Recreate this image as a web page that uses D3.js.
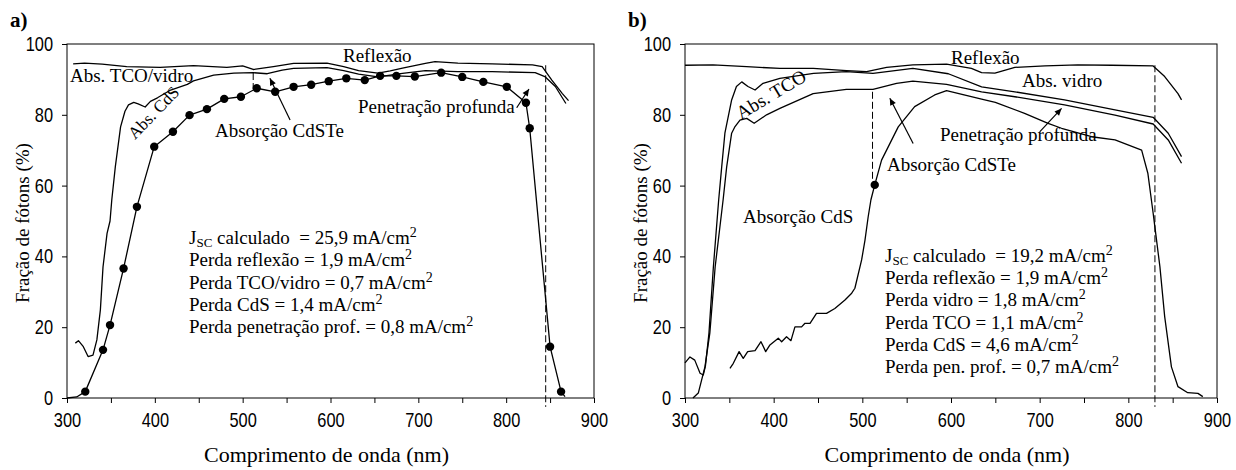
<!DOCTYPE html>
<html><head><meta charset="utf-8">
<script src="https://cdn.jsdelivr.net/npm/d3@7"></script>
<style>
body{margin:0;background:#fff;}
</style></head><body>
<svg id="chart" width="1236" height="470" xmlns="http://www.w3.org/2000/svg"></svg>
<script>
// ---------- axis ticks ----------
const xTicks = [300, 400, 500, 600, 700, 800, 900];
const xMinorTicks = [350, 450, 550, 650, 750, 850];
const yTicks = [0, 20, 40, 60, 80, 100];
const xTitle = "Comprimento de onda (nm)";
const yTitle = "Fração de fótons (%)";

// ---------- panel a ----------
const aReflexao = [[307,94.4],[320,94.6],[340,94.3],[368,93.6],[406,93.4],[444,93.9],[482,93.4],[500,93.8],[512,92.8],[535,93.6],[558,94.5],[596,94.6],[615,93.6],[632,92.5],[654,91.8],[668,92.4],[682,93.2],[708,94.5],[719,95],[745,94.6],[784,94.4],[830,94.1],[841,93.6],[852,89.8],[864,86],[871,84]];
const aTcoVidro = [[309.5,15.5],[313,16.2],[318.6,14.5],[324,11.7],[329.6,12.1],[334,16.4],[338,24.9],[341,37],[345.6,46.5],[349,50],[351,56],[355,65.3],[361,76.6],[366,81],[370,82.8],[376,83.5],[381,83.1],[389,82.2],[395,83.8],[403,84.8],[418,87],[437,88.6],[444,89.6],[467,91.2],[490,91.8],[512,91.9],[528,91.6],[545,92.6],[558,93.1],[596,93.3],[615,92.5],[632,91.5],[654,90.7],[682,91.7],[708,92.5],[745,92.2],[784,92.2],[833,91.9],[844,90.8],[856,88],[868,83.2]];
const aMedidaDots = [[320.8,1.8],[341,13.6],[349,20.6],[364.4,36.6],[379.6,54],[399.3,71],[420.6,75.2],[439.5,79.9],[459.3,81.6],[479,84.5],[498,85.1],[516,87.5],[537,86.5],[558,87.9],[578,88.5],[598,89.5],[618,90.3],[639,89.8],[656.5,91],[675,91],[696,90.8],[726,91.9],[750,90.7],[774,89.3],[800.7,87.9],[822.5,83.4],[826.8,76.2],[850,14.5],[862.5,1.8]];
const aMedidaStart = [[300,0],[311,0.3]];
const aMedidaEnd = [[867,0.4]];
const aTextBlock = ["calculado\u00a0\u00a0= 25,9 mA/cm", "Perda reflexão = 1,9 mA/cm", "Perda TCO/vidro = 0,7 mA/cm", "Perda CdS = 1,4 mA/cm", "Perda penetração prof. = 0,8 mA/cm"];

// ---------- panel b ----------
const bReflexao = [[300,94],[331.6,94.1],[369.5,93.6],[407,93.1],[444.7,93.1],[482.3,92.5],[504.8,92.2],[527.4,93.4],[557,94.1],[595,94.3],[623,93.1],[634.5,91.9],[649.5,91.8],[672,93.4],[706,93.8],[743,94.1],[781,94],[828,93.8],[841,90.8],[856,86],[860,84.2]];
const bVidro = [[300,9.9],[305.6,11.6],[311,10.7],[317,7],[320.6,6.5],[323,9],[327,18.3],[332,37],[338,56],[341.4,65.3],[345,74.8],[352.6,84.2],[358,88],[364,89.3],[371,88],[379,87],[388,88.9],[407,90.3],[445,91.7],[482,92.2],[512,91.7],[557,93.1],[597,91.6],[634.5,87.9],[672,86.5],[728,84.2],[785,81.4],[828,79.3],[845,74.8],[860,68.2]];
const bTco = [[309,0],[315,1.4],[322.5,8.8],[328,18.3],[334,37],[343,56],[347,65.3],[352.6,74.8],[356,76.5],[362,78.5],[369.6,79],[378,77.6],[392,80],[407,81.8],[444.5,86],[482,87.2],[512,87.2],[538.6,88.9],[557,89.5],[595,88.6],[634.5,86.5],[672,85.1],[728,82.8],[785,79.9],[828,77.4],[845,72.9],[860,66.3]];
const bMedida = [[350.7,8.4],[354.5,9.8],[361,13.1],[365.7,11.2],[370.7,13.1],[379,13.4],[385.7,15.9],[391,13.1],[395.8,15],[405.2,16.9],[409,15.9],[414.5,17.3],[419.5,16.2],[424,20.1],[431.5,20.1],[435.3,21.1],[441,21.1],[448.3,23.9],[459.6,23.9],[469,25.3],[480.4,27.7],[488,29.6],[491.6,31],[499.2,39],[503,44.6],[506.6,51.2],[509.7,56],[514,60.2],[521.7,67.2],[540.5,76.6],[559,82.3],[581.6,85.6],[595,86.8],[634.5,84.4],[650,83.5],[683,80.4],[709.5,77.6],[724.7,76.2],[758.5,73.8],[785,72.9],[815,70],[822,63.5],[828,52.2],[829.9,48.4],[835.6,37.1],[841,23],[848.6,8.8],[856,3.2],[867,1.5],[878.5,1.3],[884,0.4]];
const bMedidaDots = [[514,60.2]];
const bTextBlock = ["calculado\u00a0\u00a0= 19,2 mA/cm", "Perda reflexão = 1,9 mA/cm", "Perda vidro = 1,8 mA/cm", "Perda TCO = 1,1 mA/cm", "Perda CdS = 4,6 mA/cm", "Perda pen. prof. = 0,7 mA/cm"];

const SERIF = "'Liberation Serif', 'DejaVu Serif', 'Times New Roman', Times, serif";
const SANS = "'Liberation Sans', Arial, sans-serif";

const svg = d3.select("#chart");
const defs = svg.append("defs");
defs.append("marker").attr("id","arr").attr("viewBox","0 0 10 10")
  .attr("refX",10).attr("refY",5).attr("markerWidth",14).attr("markerHeight",7)
  .attr("markerUnits","userSpaceOnUse").attr("orient","auto")
  .append("path").attr("d","M0,0.5 L10,5 L0,9.5 Z").attr("fill","#000");

const TOP = 44, BOTTOM = 398;

function stext(sel, size) {
  return sel.attr("font-family", SERIF).style("font-family", SERIF)
    .style("font-size", size + "px").attr("fill", "#000");
}

function drawPanel(cfg) {
  const x = d3.scaleLinear().domain([300, 900]).range([cfg.left, cfg.right]);
  const y = d3.scaleLinear().domain([0, 100]).range([BOTTOM, TOP]);
  const g = svg.append("g");

  // axes
  const xa = g.append("g").attr("transform", `translate(0,${BOTTOM})`)
    .call(d3.axisBottom(x).tickValues(xTicks).tickSize(5).tickSizeOuter(0).tickFormat(d3.format("d")));
  g.append("g").attr("transform", `translate(0,${BOTTOM})`)
    .call(d3.axisBottom(x).tickValues(xMinorTicks).tickSize(5).tickSizeOuter(0).tickFormat(""))
    .select(".domain").remove();
  const ya = g.append("g").attr("transform", `translate(${cfg.left},0)`)
    .call(d3.axisLeft(y).tickValues(yTicks).tickSize(5).tickSizeOuter(0));
  g.selectAll(".domain").remove();
  g.selectAll(".tick line").attr("stroke", "#000");
  xa.selectAll(".tick text").attr("y", 15).attr("transform", "scale(0.82,1)")
    .attr("fill", "#000").style("font-family", SANS).style("font-size", "20px");
  ya.selectAll(".tick text").attr("x", -14 / 0.82).attr("transform", "scale(0.82,1)")
    .attr("fill", "#000").style("font-family", SANS).style("font-size", "20px");

  // frame
  g.append("rect").attr("x", cfg.left).attr("y", TOP)
    .attr("width", cfg.right - cfg.left).attr("height", BOTTOM - TOP)
    .attr("fill", "none").attr("stroke", "#000").attr("stroke-width", 1);

  // titles
  stext(g.append("text"), 22).attr("x", (cfg.left + cfg.right) / 2 - 4).attr("y", 462)
    .attr("text-anchor", "middle").text(xTitle);
  stext(g.append("text"), 19).attr("transform", `translate(${cfg.left - 38},${(TOP + BOTTOM) / 2 + 2}) rotate(-90)`)
    .attr("text-anchor", "middle").text(yTitle);
  stext(g.append("text"), 21).attr("x", cfg.left - 57).attr("y", 27)
    .style("font-weight", "bold").text(cfg.tag);

  const line = d3.line().x(d => x(d[0])).y(d => y(d[1]));
  cfg.series.forEach(s => {
    g.append("path").datum(s).attr("d", line)
      .attr("fill", "none").attr("stroke", "#000").attr("stroke-width", 1.3)
      .attr("stroke-linejoin", "round");
  });
  g.selectAll("circle.dot").data(cfg.dots).join("circle").attr("class", "dot")
    .attr("cx", d => x(d[0])).attr("cy", d => y(d[1])).attr("r", 4.2).attr("fill", "#000");

  // dashed guide lines
  cfg.dashes.forEach(d => {
    g.append("line").attr("x1", x(d[0])).attr("x2", x(d[0]))
      .attr("y1", y(d[1])).attr("y2", y(d[2]))
      .attr("stroke", "#000").attr("stroke-width", 1).attr("stroke-dasharray", "7,3");
  });
  // arrows
  cfg.arrows.forEach(a => {
    g.append("line").attr("x1", x(a[0])).attr("y1", y(a[1]))
      .attr("x2", x(a[2])).attr("y2", y(a[3]))
      .attr("stroke", "#000").attr("stroke-width", 1.2).attr("marker-end", "url(#arr)");
  });
  // labels
  cfg.labels.forEach(l => {
    const t = stext(g.append("text"), l.size || 19).text(l.text);
    if (l.rot) t.attr("transform", `translate(${l.x},${l.y}) rotate(${l.rot})`);
    else t.attr("x", l.x).attr("y", l.y);
  });
  // text block
  cfg.block.forEach((s, i) => {
    const t = stext(g.append("text"), 19).attr("x", cfg.blockX).attr("y", cfg.blockY + i * cfg.blockDy);
    if (i === 0) {
      t.append("tspan").text("J");
      t.append("tspan").attr("dy", 3).style("font-size", "13px").text("SC");
      t.append("tspan").attr("dy", -3).text("\u00a0" + s);
    } else {
      t.append("tspan").text(s);
    }
    t.append("tspan").attr("dy", -7).style("font-size", "14px").text("2");
  });
}

drawPanel({
  tag: "a)", left: 67, right: 594,
  series: [aReflexao, aTcoVidro, aMedidaStart.concat(aMedidaDots, aMedidaEnd)],
  dots: aMedidaDots,
  dashes: [[845, 94, -2.5], [512, 91.8, 87.6]],
  arrows: [[554, 78.5, 531, 90.3], [812, 82, 826, 87.3]],
  labels: [
    {text: "Reflexão", x: 343, y: 62},
    {text: "Abs. TCO/vidro", x: 70, y: 82},
    {text: "Abs. CdS", x: 135, y: 140, rot: -46, size: 17},
    {text: "Absorção CdSTe", x: 215, y: 137},
    {text: "Penetração profunda", x: 358, y: 113}
  ],
  block: aTextBlock, blockX: 189, blockY: 244, blockDy: 22.3
});

drawPanel({
  tag: "b)", left: 685, right: 1217,
  series: [bReflexao, bVidro, bTco, bMedida],
  dots: bMedidaDots,
  dashes: [[830, 94, -2.5], [511.5, 86.5, 60]],
  arrows: [[557.3, 71.9, 531, 84.7], [700, 75.2, 724.7, 81.8]],
  labels: [
    {text: "Reflexão", x: 951, y: 64},
    {text: "Abs. vidro", x: 1022, y: 87},
    {text: "Abs. TCO", x: 741, y: 120, rot: -31},
    {text: "Penetração profunda", x: 940, y: 141},
    {text: "Absorção CdSTe", x: 887, y: 171},
    {text: "Absorção CdS", x: 743, y: 223}
  ],
  block: bTextBlock, blockX: 885, blockY: 262, blockDy: 22.2
});
</script>
</body></html>
